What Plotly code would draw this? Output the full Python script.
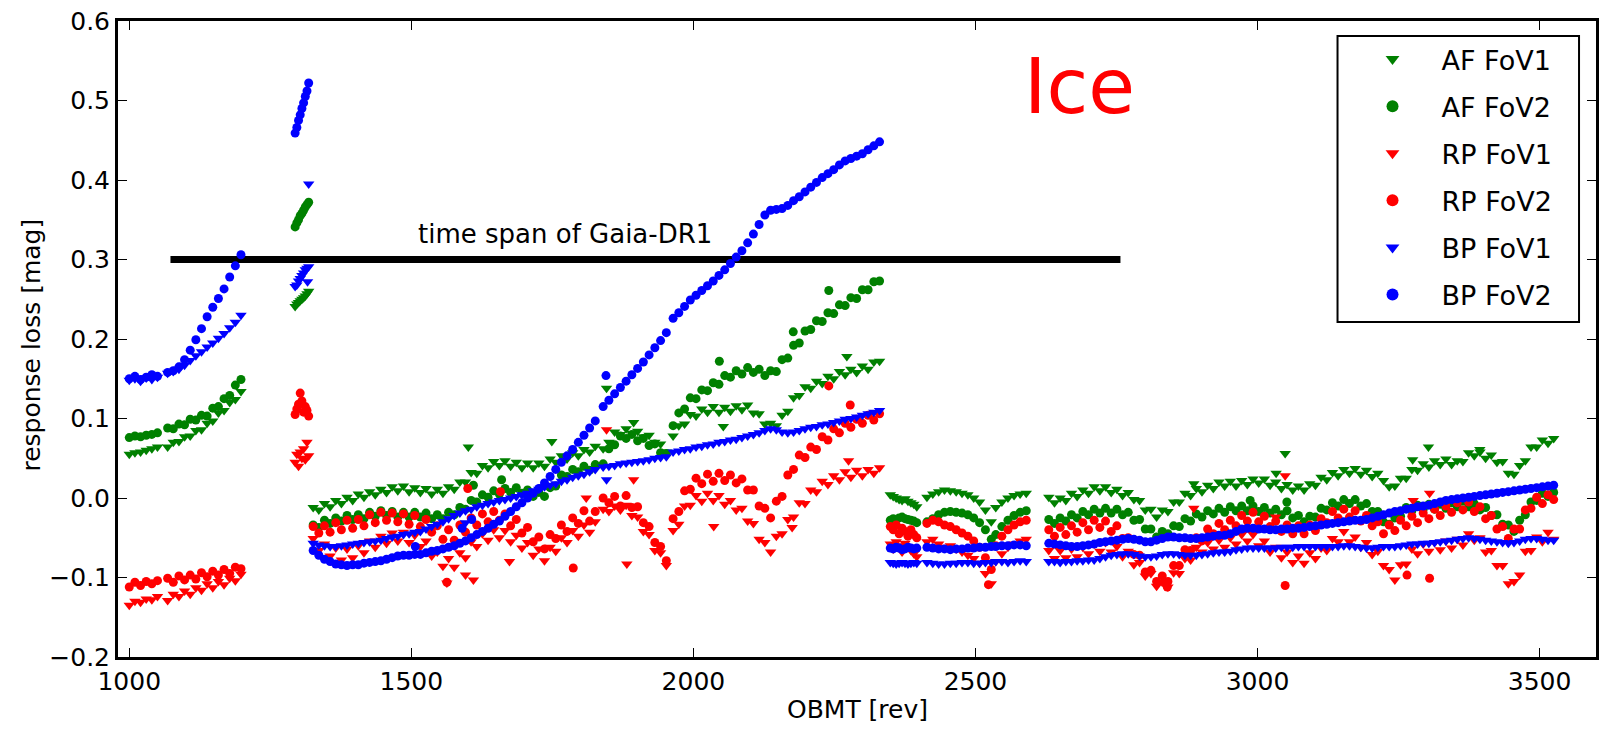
import numpy as np
import plotly.graph_objects as go

# OBMT sampling segments (revolutions)
SEG_START = [1000, 1068, 1294, 1326, 1840, 1964, 2349, 2414, 2536, 2630]
SEG_END = [1050, 1198, 1318, 1826, 1952, 2330, 2396, 2528, 2590, 3525]

AF_FOV1 = [
    [0.055, 0.057, 0.058, 0.060, 0.062, 0.064],
    [0.064, 0.070, 0.071, 0.077, 0.078, 0.085, 0.086, 0.094, 0.097, 0.107, 0.110, 0.120, 0.124, 0.134],
    [0.241, 0.244, 0.246, 0.248, 0.250, 0.252, 0.254, 0.257, 0.260],
    [-0.012, -0.015, -0.007, -0.011, -0.003, -0.007, 0.001, -0.003, 0.005, 0.001,
     0.008, 0.004, 0.011, 0.007, 0.014, 0.009, 0.015, 0.008, 0.013, 0.007,
     0.012, 0.005, 0.011, 0.006, 0.014, 0.011, 0.020, 0.020, 0.032, 0.031,
     0.041, 0.038, 0.046, 0.041, 0.047, 0.040, 0.045, 0.038, 0.044, 0.038,
     0.044, 0.040, 0.049, 0.045, 0.053, 0.049, 0.057, 0.053, 0.061, 0.058,
     0.065],
    [0.062, 0.070, 0.083, 0.080, 0.087, 0.081, 0.084, 0.077, 0.079, 0.070, 0.068, 0.058],
    [0.078, 0.091, 0.093, 0.105, 0.103, 0.112, 0.108, 0.115, 0.108, 0.114,
     0.109, 0.116, 0.111, 0.117, 0.107, 0.106, 0.093, 0.094, 0.091, 0.104,
     0.109, 0.126, 0.129, 0.140, 0.138, 0.147, 0.144, 0.153, 0.150, 0.159,
     0.155, 0.162, 0.158, 0.166, 0.162, 0.171, 0.172],
    [0.004, 0.002, 0.000, -0.002, -0.003, -0.001, -0.004, -0.006, -0.008, -0.011],
    [0.001, 0.005, 0.008, 0.010, 0.009, 0.008, 0.006, 0.004, 0.000, -0.005, -0.015, -0.030],
    [-0.012, -0.005, 0.000, 0.003, 0.005, 0.006],
    [0.001, -0.006, 0.000, -0.003, 0.006, 0.002, 0.010, 0.006, 0.014, 0.009,
     0.014, 0.007, 0.011, 0.003, 0.007, -0.002, -0.003, -0.015, -0.014, -0.024,
     -0.015, -0.017, -0.005, -0.005, 0.006, 0.003, 0.012, 0.008, 0.016, 0.012,
     0.020, 0.015, 0.021, 0.015, 0.022, 0.017, 0.024, 0.019, 0.024, 0.016,
     0.020, 0.012, 0.017, 0.010, 0.015, 0.010, 0.018, 0.016, 0.026, 0.023,
     0.032, 0.028, 0.036, 0.031, 0.037, 0.030, 0.035, 0.027, 0.031, 0.022,
     0.014, 0.015, 0.025, 0.025, 0.036, 0.035, 0.043, 0.039, 0.047, 0.042,
     0.049, 0.042, 0.047, 0.046, 0.057, 0.053, 0.058, 0.050, 0.054, 0.045,
     0.046, 0.031, 0.030, 0.041, 0.047, 0.064, 0.064, 0.073, 0.069, 0.075],
]
AF_FOV1_OUT_X = [1601, 1749, 1846, 1894, 2053, 2272, 2887, 3049, 3033, 3275, 3303, 3394]
AF_FOV1_OUT_Y = [0.064, 0.071, 0.138, 0.095, 0.090, 0.178, 0.018, 0.056, 0.031, 0.048, 0.064, 0.061]

AF_FOV2 = [
    [0.076, 0.078, 0.077, 0.079, 0.080, 0.082],
    [0.088, 0.087, 0.093, 0.092, 0.099, 0.098, 0.104, 0.103, 0.113, 0.115, 0.125, 0.129, 0.142, 0.149],
    [0.341, 0.346, 0.350, 0.355, 0.358, 0.362, 0.366, 0.369, 0.372],
    [-0.034, -0.037, -0.028, -0.032, -0.025, -0.029, -0.022, -0.027, -0.021, -0.026,
     -0.018, -0.023, -0.016, -0.022, -0.017, -0.024, -0.018, -0.024, -0.018, -0.024,
     -0.019, -0.026, -0.021, -0.026, -0.018, -0.021, -0.012, -0.014, -0.003, -0.005,
     0.004, 0.001, 0.009, 0.005, 0.012, 0.007, 0.013, 0.006, 0.010, 0.002,
     0.007, 0.002, 0.013, 0.015, 0.029, 0.027, 0.036, 0.033, 0.040, 0.035,
     0.042],
    [0.043, 0.062, 0.067, 0.078, 0.075, 0.080, 0.072, 0.075, 0.066, 0.068, 0.057, 0.056],
    [0.091, 0.107, 0.112, 0.126, 0.125, 0.136, 0.135, 0.145, 0.143, 0.154,
     0.152, 0.160, 0.156, 0.164, 0.158, 0.162, 0.154, 0.160, 0.159, 0.174,
     0.176, 0.192, 0.195, 0.210, 0.212, 0.223, 0.222, 0.233, 0.232, 0.243,
     0.242, 0.252, 0.251, 0.262, 0.262, 0.272, 0.273],
    [-0.028, -0.026, -0.027, -0.025, -0.024, -0.026, -0.027, -0.028, -0.029, -0.031],
    [-0.030, -0.026, -0.021, -0.018, -0.017, -0.018, -0.019, -0.021, -0.025, -0.031, -0.040, -0.052],
    [-0.046, -0.036, -0.028, -0.022, -0.018, -0.016],
    [-0.027, -0.032, -0.025, -0.029, -0.021, -0.025, -0.017, -0.021, -0.014, -0.019,
     -0.013, -0.019, -0.014, -0.021, -0.018, -0.028, -0.027, -0.039, -0.039, -0.049,
     -0.042, -0.045, -0.035, -0.036, -0.026, -0.029, -0.020, -0.024, -0.016, -0.020,
     -0.013, -0.018, -0.011, -0.016, -0.010, -0.016, -0.010, -0.017, -0.012, -0.019,
     -0.014, -0.021, -0.016, -0.025, -0.022, -0.030, -0.023, -0.024, -0.013, -0.015,
     -0.006, -0.010, -0.002, -0.007, -0.002, -0.010, -0.007, -0.017, -0.017, -0.030,
     -0.033, -0.025, -0.023, -0.012, -0.016, -0.009, -0.014, -0.008, -0.014, -0.008,
     -0.013, -0.006, -0.011, -0.004, -0.011, -0.007, -0.015, -0.012, -0.022, -0.021,
     -0.033, -0.034, -0.042, -0.028, -0.021, -0.005, -0.003, 0.006, 0.002, 0.007],
]
AF_FOV2_OUT_X = [1660, 1610, 2046, 2177, 2240, 2987, 3052]
AF_FOV2_OUT_Y = [0.023, 0.016, 0.172, 0.209, 0.261, -0.003, -0.005]

RP_FOV1 = [
    [-0.135, -0.130, -0.131, -0.127, -0.128, -0.124],
    [-0.129, -0.121, -0.124, -0.117, -0.121, -0.113, -0.116, -0.108, -0.113, -0.105, -0.109, -0.101, -0.104, -0.096],
    [0.045, 0.055, 0.040, 0.058, 0.050, 0.062, 0.048, 0.070, 0.053],
    [-0.051, -0.066, -0.058, -0.073, -0.063, -0.078, -0.064, -0.075, -0.060, -0.069,
     -0.054, -0.062, -0.048, -0.057, -0.044, -0.054, -0.043, -0.056, -0.047, -0.061,
     -0.054, -0.073, -0.068, -0.086, -0.076, -0.087, -0.069, -0.075, -0.055, -0.061,
     -0.045, -0.053, -0.040, -0.050, -0.041, -0.055, -0.047, -0.063, -0.056, -0.072,
     -0.064, -0.079, -0.062, -0.067, -0.050, -0.056, -0.041, -0.048, -0.034, -0.043,
     -0.030],
    [-0.014, -0.017, -0.010, -0.015, -0.009, -0.022, -0.024, -0.042, -0.046, -0.066, -0.069, -0.085],
    [-0.041, -0.033, -0.010, -0.009, 0.003, -0.004, 0.006, -0.003, 0.003, -0.008,
     -0.003, -0.015, -0.013, -0.029, -0.032, -0.052, -0.056, -0.068, -0.048, -0.045,
     -0.027, -0.024, -0.006, -0.007, 0.010, 0.008, 0.021, 0.017, 0.028, 0.023,
     0.033, 0.026, 0.035, 0.028, 0.036, 0.031, 0.038],
    [-0.058, -0.064, -0.055, -0.060, -0.068, -0.057, -0.062, -0.066, -0.070, -0.074],
    [-0.055, -0.052, -0.058, -0.062, -0.060, -0.064, -0.068, -0.072, -0.076, -0.082, -0.095, -0.108],
    [-0.080, -0.070, -0.062, -0.058, -0.054, -0.052],
    [-0.066, -0.076, -0.066, -0.075, -0.064, -0.074, -0.062, -0.070, -0.058, -0.067,
     -0.056, -0.068, -0.061, -0.074, -0.067, -0.084, -0.081, -0.098, -0.095, -0.111,
     -0.106, -0.112, -0.094, -0.095, -0.076, -0.078, -0.062, -0.068, -0.056, -0.064,
     -0.053, -0.062, -0.050, -0.058, -0.046, -0.054, -0.046, -0.060, -0.054, -0.068,
     -0.062, -0.075, -0.068, -0.081, -0.073, -0.082, -0.069, -0.076, -0.063, -0.066,
     -0.051, -0.055, -0.042, -0.055, -0.049, -0.062, -0.056, -0.071, -0.067, -0.085,
     -0.090, -0.103, -0.084, -0.083, -0.064, -0.070, -0.058, -0.067, -0.056, -0.065,
     -0.054, -0.063, -0.052, -0.059, -0.045, -0.053, -0.050, -0.068, -0.066, -0.085,
     -0.085, -0.108, -0.105, -0.097, -0.067, -0.066, -0.049, -0.055, -0.043, -0.052],
]
RP_FOV1_OUT_X = [1596, 1610, 1563, 1674, 1810, 1882, 2036, 2175, 2275, 3049, 3305, 3276, 2887, 3032, 1846, 1894]
RP_FOV1_OUT_Y = [-0.097, -0.103, -0.107, -0.080, 0.000, -0.083, -0.036, -0.037, 0.047, 0.028, 0.006, -0.003, -0.013, -0.024, 0.086, 0.023]

RP_FOV2 = [
    [-0.112, -0.106, -0.110, -0.105, -0.108, -0.104],
    [-0.101, -0.106, -0.098, -0.103, -0.097, -0.102, -0.094, -0.099, -0.092, -0.097, -0.090, -0.095, -0.087, -0.089],
    [0.105, 0.112, 0.118, 0.132, 0.122, 0.108, 0.115, 0.110, 0.103],
    [-0.036, -0.044, -0.035, -0.043, -0.031, -0.040, -0.028, -0.038, -0.027, -0.035,
     -0.021, -0.031, -0.018, -0.028, -0.019, -0.030, -0.020, -0.033, -0.022, -0.036,
     -0.027, -0.043, -0.035, -0.052, -0.040, -0.053, -0.034, -0.043, -0.025, -0.034,
     -0.020, -0.030, -0.017, -0.028, -0.020, -0.035, -0.027, -0.044, -0.037, -0.055,
     -0.049, -0.064, -0.046, -0.051, -0.034, -0.042, -0.025, -0.032, -0.016, -0.029,
     -0.017],
    [0.000, -0.006, 0.002, -0.010, 0.003, -0.012, -0.011, -0.031, -0.036, -0.056, -0.061, -0.079],
    [-0.026, -0.017, 0.009, 0.011, 0.025, 0.018, 0.030, 0.021, 0.031, 0.022,
     0.029, 0.019, 0.024, 0.010, 0.010, -0.010, -0.013, -0.025, -0.004, 0.002,
     0.029, 0.036, 0.054, 0.051, 0.064, 0.061, 0.077, 0.073, 0.087, 0.082,
     0.094, 0.089, 0.099, 0.094, 0.104, 0.098, 0.106],
    [-0.036, -0.040, -0.034, -0.045, -0.038, -0.042, -0.048, -0.040, -0.046, -0.050],
    [-0.032, -0.028, -0.030, -0.034, -0.036, -0.040, -0.044, -0.048, -0.054, -0.062, -0.075, -0.090],
    [-0.060, -0.048, -0.040, -0.034, -0.030, -0.028],
    [-0.040, -0.048, -0.037, -0.046, -0.035, -0.043, -0.031, -0.040, -0.028, -0.037,
     -0.029, -0.042, -0.035, -0.051, -0.050, -0.071, -0.072, -0.093, -0.091, -0.105,
     -0.098, -0.105, -0.085, -0.085, -0.065, -0.066, -0.050, -0.054, -0.039, -0.045,
     -0.032, -0.040, -0.028, -0.035, -0.022, -0.029, -0.018, -0.030, -0.023, -0.036,
     -0.029, -0.042, -0.034, -0.045, -0.035, -0.045, -0.034, -0.041, -0.026, -0.031,
     -0.017, -0.025, -0.014, -0.024, -0.016, -0.029, -0.022, -0.035, -0.030, -0.045,
     -0.034, -0.041, -0.028, -0.035, -0.023, -0.031, -0.019, -0.026, -0.014, -0.022,
     -0.010, -0.018, -0.006, -0.015, -0.005, -0.017, -0.011, -0.026, -0.022, -0.039,
     -0.036, -0.051, -0.039, -0.039, -0.015, -0.013, 0.001, -0.007, 0.004, -0.002],
]
RP_FOV2_OUT_X = [2240, 2278, 1563, 1787, 3049, 3305, 3265, 2840, 2523, 1658, 1600]
RP_FOV2_OUT_Y = [0.141, 0.117, -0.106, -0.088, -0.110, -0.101, -0.097, -0.112, -0.109, 0.008, 0.012]

BP_FOV1 = [
    [0.148, 0.150, 0.147, 0.151, 0.149, 0.152],
    [0.157, 0.159, 0.162, 0.167, 0.173, 0.179, 0.184, 0.190, 0.195, 0.201, 0.207, 0.214, 0.221, 0.230],
    [0.266, 0.268, 0.273, 0.276, 0.280, 0.283, 0.287, 0.289, 0.291],
    [-0.057, -0.059, -0.060, -0.061, -0.061, -0.060, -0.059, -0.058, -0.057, -0.056,
     -0.055, -0.054, -0.053, -0.051, -0.049, -0.048, -0.046, -0.045, -0.043, -0.042,
     -0.039, -0.036, -0.033, -0.030, -0.026, -0.022, -0.019, -0.016, -0.014, -0.011,
     -0.009, -0.007, -0.005, -0.003, -0.002, 0.000, 0.002, 0.004, 0.006, 0.009,
     0.011, 0.014, 0.016, 0.018, 0.021, 0.023, 0.026, 0.028, 0.030, 0.033,
     0.036],
    [0.039, 0.040, 0.041, 0.043, 0.044, 0.045, 0.046, 0.047, 0.048, 0.050, 0.051, 0.052],
    [0.058, 0.059, 0.061, 0.062, 0.064, 0.065, 0.067, 0.068, 0.070, 0.071,
     0.073, 0.074, 0.076, 0.078, 0.080, 0.082, 0.085, 0.087, 0.086, 0.083,
     0.082, 0.083, 0.085, 0.087, 0.089, 0.090, 0.092, 0.093, 0.095, 0.097,
     0.099, 0.100, 0.102, 0.104, 0.106, 0.108, 0.110],
    [-0.081, -0.082, -0.083, -0.082, -0.081, -0.082, -0.083, -0.082, -0.081, -0.082],
    [-0.081, -0.082, -0.083, -0.083, -0.082, -0.082, -0.081, -0.081, -0.082, -0.082, -0.081, -0.081],
    [-0.080, -0.080, -0.081, -0.080, -0.079, -0.080],
    [-0.080, -0.080, -0.081, -0.080, -0.080, -0.079, -0.079, -0.078, -0.078, -0.076,
     -0.074, -0.072, -0.071, -0.070, -0.070, -0.071, -0.073, -0.074, -0.074, -0.073,
     -0.071, -0.070, -0.070, -0.071, -0.072, -0.072, -0.072, -0.071, -0.070, -0.069,
     -0.068, -0.068, -0.067, -0.065, -0.064, -0.063, -0.063, -0.063, -0.063, -0.063,
     -0.063, -0.062, -0.062, -0.062, -0.061, -0.061, -0.061, -0.061, -0.061, -0.061,
     -0.061, -0.061, -0.060, -0.060, -0.061, -0.062, -0.063, -0.063, -0.062, -0.061,
     -0.061, -0.061, -0.060, -0.059, -0.058, -0.058, -0.057, -0.057, -0.056, -0.055,
     -0.054, -0.053, -0.052, -0.051, -0.050, -0.051, -0.052, -0.053, -0.054, -0.055,
     -0.056, -0.057, -0.056, -0.054, -0.052, -0.051, -0.051, -0.052, -0.053, -0.053],
]
BP_FOV1_OUT_X = [1318, 1316, 1846, 1596]
BP_FOV1_OUT_Y = [0.395, 0.272, 0.023, -0.031]

BP_FOV2 = [
    [0.150, 0.153, 0.149, 0.152, 0.155, 0.153],
    [0.158, 0.160, 0.165, 0.174, 0.186, 0.199, 0.213, 0.228, 0.240, 0.251, 0.263, 0.278, 0.292, 0.306],
    [0.459, 0.466, 0.475, 0.482, 0.490, 0.497, 0.505, 0.512, 0.522],
    [-0.066, -0.072, -0.077, -0.080, -0.083, -0.084, -0.085, -0.084, -0.084, -0.082,
     -0.081, -0.080, -0.079, -0.077, -0.075, -0.073, -0.072, -0.072, -0.071, -0.071,
     -0.069, -0.067, -0.066, -0.064, -0.062, -0.060, -0.057, -0.054, -0.050, -0.046,
     -0.042, -0.038, -0.033, -0.029, -0.023, -0.017, -0.011, -0.006, 0.000, 0.006,
     0.012, 0.019, 0.027, 0.036, 0.045, 0.053, 0.061, 0.070, 0.079, 0.088,
     0.097],
    [0.115, 0.123, 0.131, 0.139, 0.147, 0.155, 0.163, 0.171, 0.180, 0.189, 0.198, 0.208],
    [0.226, 0.233, 0.241, 0.249, 0.255, 0.261, 0.267, 0.273, 0.280, 0.287,
     0.295, 0.303, 0.311, 0.321, 0.332, 0.344, 0.356, 0.362, 0.363, 0.364,
     0.368, 0.374, 0.379, 0.385, 0.391, 0.397, 0.403, 0.408, 0.413, 0.419,
     0.424, 0.427, 0.430, 0.433, 0.438, 0.443, 0.448],
    [-0.063, -0.064, -0.062, -0.063, -0.065, -0.064, -0.062, -0.063, -0.064, -0.063],
    [-0.062, -0.063, -0.064, -0.064, -0.065, -0.064, -0.064, -0.063, -0.063, -0.062, -0.062, -0.061],
    [-0.061, -0.060, -0.060, -0.059, -0.059, -0.060],
    [-0.057, -0.058, -0.059, -0.060, -0.061, -0.061, -0.060, -0.059, -0.058, -0.056,
     -0.055, -0.054, -0.053, -0.052, -0.051, -0.052, -0.053, -0.055, -0.055, -0.053,
     -0.051, -0.049, -0.049, -0.050, -0.050, -0.051, -0.051, -0.050, -0.049, -0.048,
     -0.047, -0.047, -0.045, -0.042, -0.039, -0.038, -0.038, -0.039, -0.039, -0.040,
     -0.040, -0.039, -0.039, -0.038, -0.038, -0.037, -0.036, -0.035, -0.034, -0.033,
     -0.032, -0.031, -0.030, -0.029, -0.028, -0.028, -0.027, -0.025, -0.023, -0.021,
     -0.019, -0.017, -0.016, -0.014, -0.013, -0.011, -0.010, -0.009, -0.007, -0.005,
     -0.003, -0.002, -0.001, 0.000, 0.001, 0.002, 0.003, 0.004, 0.005, 0.006,
     0.007, 0.008, 0.009, 0.010, 0.011, 0.012, 0.013, 0.014, 0.015, 0.016],
]
BP_FOV2_OUT_X = [1845, 1590, 1607, 1507]
BP_FOV2_OUT_Y = [0.154, -0.038, -0.027, -0.061]

# black bar as drawn in the picture (time span of Gaia-DR1)
DR1_START, DR1_END, DR1_LEVEL = 1073, 2757, 0.3
X_TICKS = [1000, 1500, 2000, 2500, 3000, 3500]
Y_TICKS = [-0.2, -0.1, 0.0, 0.1, 0.2, 0.3, 0.4, 0.5, 0.6]
Y_TICK_TEXT = ["\u22120.2", "\u22120.1", "0.0", "0.1", "0.2", "0.3", "0.4", "0.5", "0.6"]

FONT = "DejaVu Sans"


def expand(segments, out_x, out_y):
    xs, ys = [], []
    for s, e, vals in zip(SEG_START, SEG_END, segments):
        xs.extend(np.linspace(s, e, len(vals)).tolist())
        ys.extend(vals)
    return xs + list(out_x), ys + list(out_y)


series = [
    ("AF FoV1", AF_FOV1, AF_FOV1_OUT_X, AF_FOV1_OUT_Y, "#008000", "triangle-down"),
    ("AF FoV2", AF_FOV2, AF_FOV2_OUT_X, AF_FOV2_OUT_Y, "#008000", "circle"),
    ("RP FoV1", RP_FOV1, RP_FOV1_OUT_X, RP_FOV1_OUT_Y, "#ff0000", "triangle-down"),
    ("RP FoV2", RP_FOV2, RP_FOV2_OUT_X, RP_FOV2_OUT_Y, "#ff0000", "circle"),
    ("BP FoV1", BP_FOV1, BP_FOV1_OUT_X, BP_FOV1_OUT_Y, "#0000ff", "triangle-down"),
    ("BP FoV2", BP_FOV2, BP_FOV2_OUT_X, BP_FOV2_OUT_Y, "#0000ff", "circle"),
]

fig = go.Figure()
fig.add_trace(go.Scatter(x=[DR1_START, DR1_END], y=[DR1_LEVEL, DR1_LEVEL], mode="lines",
                         line=dict(color="black", width=7), showlegend=False, hoverinfo="skip"))

for name, segs, ox, oy, col, sym in series:
    xs, ys = expand(segs, ox, oy)
    fig.add_trace(go.Scatter(
        x=xs, y=ys, mode="markers", name=name, legendgroup=name,
        marker=dict(color=col, symbol=sym, size=10 if sym == "triangle-down" else 9,
                    line=dict(width=0)),
    ))

axis_common = dict(showline=True, linewidth=3, linecolor="black", mirror="allticks",
                   ticks="inside", ticklen=9, tickwidth=1, tickcolor="black",
                   showgrid=False, zeroline=False,
                   tickfont=dict(family=FONT, size=25, color="black"))

PW, PL, PT, PH = 1481.0, 118.0, 21.0, 636.0  # plot area in px


def px_x(v):
    return (v - PL) / PW


def px_y(v):
    return (PT + PH - v) / PH


fig.update_layout(
    width=1602, height=731,
    margin=dict(l=118, r=3, t=21, b=74),
    paper_bgcolor="white", plot_bgcolor="white",
    font=dict(family=FONT, color="black"),
    xaxis=dict(range=[980, 3600], tickvals=X_TICKS, **axis_common),
    yaxis=dict(range=[-0.2, 0.6], tickvals=Y_TICKS, ticktext=Y_TICK_TEXT, **axis_common),
    legend=dict(x=px_x(1346), y=px_y(35), xanchor="left", yanchor="top",
                bgcolor="rgba(0,0,0,0)", borderwidth=0,
                font=dict(family=FONT, size=27, color="black"),
                itemsizing="constant", tracegroupgap=9, itemwidth=88),
    showlegend=True,
    shapes=[dict(type="rect", xref="paper", yref="paper",
                 x0=px_x(1340), x1=px_x(1582), y0=px_y(322), y1=px_y(36),
                 line=dict(color="black", width=2), fillcolor="white", layer="above")],
    annotations=[
        dict(text="time span of Gaia-DR1", x=1773, y=0.332, xref="x", yref="y",
             showarrow=False, font=dict(family=FONT, size=26, color="black")),
        dict(text="Ice", x=2685, y=0.518, xref="x", yref="y", showarrow=False,
             font=dict(family=FONT, size=76, color="red")),
        dict(text="OBMT [rev]", x=0.5, y=-0.083, xref="paper", yref="paper",
             showarrow=False, yanchor="middle", font=dict(family=FONT, size=25, color="black")),
        dict(text="response loss [mag]", x=-0.0587, y=0.49, xref="paper", yref="paper",
             showarrow=False, textangle=-90, xanchor="center",
             font=dict(family=FONT, size=25, color="black")),
    ],
)

fig.write_html("out.html")
